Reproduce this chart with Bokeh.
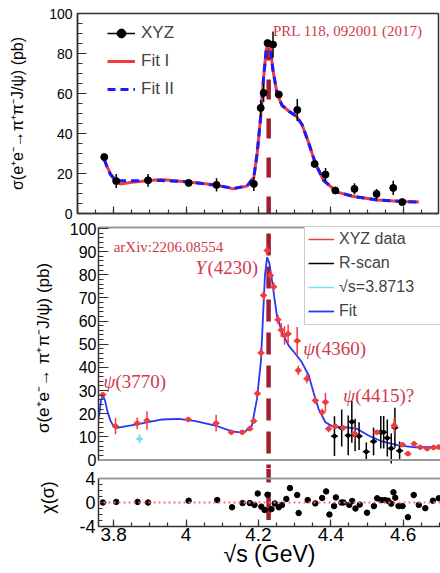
import numpy as np
from bokeh.plotting import figure
from bokeh.models import (Range1d, LinearAxis, Legend, LegendItem, Label, Span,
                          FixedTicker, SingleIntervalTicker, CustomJSTickFormatter)
from bokeh.embed import file_html
from bokeh.resources import INLINE

# ---------------- data ----------------
# top panel (PRL 118, 092001 (2017))
top_E = [3.774, 3.807, 3.895, 4.007, 4.084, 4.187, 4.206, 4.214, 4.225, 4.240,
         4.256, 4.307, 4.355, 4.385, 4.412, 4.465, 4.526, 4.572, 4.597]
top_sig = [28.2, 16.2, 16.6, 15.3, 14.3, 14.8, 52.8, 60.3, 85.2, 84.5,
           59.5, 51.8, 24.8, 19.5, 11.5, 12.3, 9.8, 12.8, 5.7]
top_err = [1.0, 3.5, 3.2, 1.0, 3.3, 3.5, 4.0, 4.5, 1.5, 6.5,
           1.5, 5.5, 1.5, 3.3, 1.2, 2.8, 2.5, 3.6, 1.0]

fit_top_E = [3.774, 3.783, 3.791, 3.805, 3.818, 3.850, 3.930, 4.007, 4.084, 4.131,
             4.168, 4.187, 4.196, 4.205, 4.214, 4.221, 4.226, 4.233, 4.240, 4.251,
             4.265, 4.285, 4.305, 4.320, 4.339, 4.357, 4.380, 4.417, 4.463, 4.528,
             4.597, 4.643]
fit_I = [27.0, 23.0, 19.8, 15.8, 14.8, 15.6, 17.0, 15.8, 14.2, 12.3,
         13.7, 18.2, 29.8, 46.5, 68.0, 81.5, 85.7, 82.3, 71.5, 60.0,
         54.0, 51.0, 48.5, 44.5, 35.0, 25.0, 16.5, 10.7, 8.5, 6.8,
         6.0, 5.7]
fit_II = [27.0, 22.5, 19.5, 17.0, 16.4, 16.4, 16.5, 15.8, 14.0, 12.6,
          13.7, 18.2, 29.8, 46.5, 68.0, 81.5, 85.7, 82.3, 71.5, 60.0,
          54.0, 51.0, 48.5, 44.5, 35.0, 25.0, 16.5, 10.7, 8.5, 6.8,
          6.0, 5.7]

# middle panel (arXiv:2206.08554)
xyz_E = [3.770, 3.805, 3.865, 3.892, 4.006, 4.083, 4.125, 4.155, 4.176, 4.187,
         4.197, 4.207, 4.214, 4.224, 4.233, 4.242, 4.254, 4.263, 4.272, 4.282,
         4.307, 4.310, 4.334, 4.357, 4.376, 4.385, 4.394, 4.412, 4.434, 4.466,
         4.527, 4.575, 4.598, 4.613, 4.630, 4.647, 4.666, 4.684, 4.698]
xyz_sig = [28.2, 14.6, 15.9, 17.1, 17.5, 15.9, 12.0, 12.0, 13.5, 16.8,
           28.7, 46.3, 71.1, 90.5, 79.7, 74.8, 60.6, 56.2, 53.8, 54.5,
           51.5, 38.7, 35.1, 25.7, 20.6, 25.0, 13.5, 14.6, 13.9, 11.3,
           12.0, 14.9, 6.6, 2.7, 7.0, 5.5, 4.9, 5.4, 5.6]
xyz_err = [1.0, 3.5, 2.5, 4.0, 1.0, 3.6, 1.0, 1.0, 1.0, 1.0,
           1.5, 2.0, 2.0, 2.0, 2.0, 2.0, 2.0, 3.0, 4.0, 4.0,
           6.0, 2.0, 2.0, 1.5, 1.5, 4.0, 1.5, 1.0, 1.0, 3.0,
           1.0, 3.5, 1.0, 1.0, 1.0, 1.0, 1.0, 1.0, 1.0]

rscan_E = [4.410, 4.430, 4.448, 4.458, 4.467, 4.478, 4.498, 4.518, 4.538, 4.546,
           4.556, 4.567, 4.577, 4.590]
rscan_sig = [10.3, 13.8, 10.6, 16.5, 10.8, 10.3, 3.6, 8.0, 12.0, 12.0,
             9.5, 5.0, 14.0, 4.0]
rscan_err = [8.6, 8.0, 8.6, 9.0, 7.0, 6.0, 4.0, 6.0, 7.0, 7.0,
             8.0, 6.5, 8.6, 4.0]

cyan_E = [3.8713]
cyan_sig = [9.1]
cyan_err = [2.0]

fit_E = [3.759, 3.765, 3.770, 3.776, 3.782, 3.791, 3.800, 3.809, 3.860, 3.934,
         3.980, 4.026, 4.081, 4.127, 4.159, 4.182, 4.196, 4.207, 4.212, 4.218,
         4.224, 4.230, 4.237, 4.244, 4.251, 4.265, 4.283, 4.302, 4.320, 4.339,
         4.352, 4.366, 4.385, 4.408, 4.440, 4.472, 4.504, 4.541, 4.587, 4.633,
         4.703]
fit_sig = [18.5, 25.7, 27.9, 25.7, 21.4, 17.0, 14.4, 13.9, 15.3, 17.5,
           17.8, 16.8, 14.9, 12.4, 11.7, 14.9, 26.5, 43.0, 60.0, 80.0,
           87.6, 85.0, 78.0, 70.0, 62.4, 55.2, 49.5, 45.9, 42.2, 36.5,
           29.3, 22.1, 16.3, 14.2, 14.2, 13.5, 10.6, 8.0, 6.3, 5.5,
           5.5]

# bottom panel: pulls
res_E = [3.770, 3.807, 3.866, 3.895, 4.007, 4.086, 4.127, 4.156, 4.176, 4.189,
         4.198, 4.208, 4.217, 4.225, 4.236, 4.245, 4.256, 4.265, 4.277, 4.287,
         4.307, 4.311, 4.336, 4.357, 4.376, 4.387, 4.396, 4.409, 4.414, 4.429,
         4.435, 4.451, 4.459, 4.468, 4.480, 4.500, 4.519, 4.528, 4.539, 4.549,
         4.558, 4.567, 4.573, 4.578, 4.587, 4.598, 4.613, 4.629, 4.643, 4.661,
         4.682, 4.698]
res_chi = [0.0, 0.1, 0.1, 0.0, 0.3, 0.4, -0.8, -0.1, -0.1, -0.4,
           1.5, -0.7, -1.25, 1.3, -1.1, -0.15, -0.8, -0.4, 0.6, 2.4,
           1.25, -1.75, 0.4, -0.15, 0.75, 1.85, -2.0, -0.6, 0.85, 0.0,
           0.0, -0.4, 0.25, -1.0, -0.35, -1.7, -0.6, 0.7, 0.4, 0.4,
           0.3, -0.2, 1.7, 0.8, -0.6, -0.6, -2.45, 1.25, -0.4, -0.95,
           0.3, 0.7]

# axis ticks
x_tick_vals = [3.8, 4.0, 4.2, 4.4, 4.6]
x_tick_labels = ["3.8", "4", "4.2", "4.4", "4.6"]
chi_tick_vals = [-4, 0, 4]
chi_tick_labels = ["-4", "0", "4"]

# Y(4230) reference line and its extents per panel
ref_E = 4.228
ref_top_span = [86.5, -5.0]
ref_mid_span = [97.8, -3.67]
ref_bot_spans = [[5.667, 3.33], [1.75, -2.9]]

# ---------------- style ----------------
SANS = "Liberation Sans"
SERIF = "Liberation Serif"
ANN = "#d03a4c"
REFC = "#a01e2d"
DARK = "#333333"
GRAY = "#999999"

def lohi(v, e):
    return [a - b for a, b in zip(v, e)], [a + b for a, b in zip(v, e)]

minor_x = [round(3.7 + 0.05 * i, 3) for i in range(22)]
blank = CustomJSTickFormatter(code="return ''")

def style_axis(ax, font_size, tick_in, minor_in, standoff):
    ax.major_tick_in = tick_in
    ax.major_tick_out = 0
    ax.minor_tick_in = minor_in
    ax.minor_tick_out = 0
    ax.major_label_text_font = SANS
    ax.major_label_text_font_size = font_size
    ax.major_label_text_color = "black"
    ax.major_label_standoff = standoff
    ax.axis_line_color = DARK
    ax.axis_line_width = 1.5
    ax.major_tick_line_color = DARK
    ax.minor_tick_line_color = DARK
    ax.major_tick_line_width = 1.2
    ax.minor_tick_line_width = 1.2
    ax.axis_label_text_font = SANS
    ax.axis_label_text_font_style = "normal"
    ax.axis_label_text_color = "black"

def border_axis():
    return LinearAxis(ticker=FixedTicker(ticks=[]), formatter=blank,
                      major_label_text_font_size="1px",
                      major_tick_in=0, major_tick_out=0, minor_tick_in=0, minor_tick_out=0,
                      major_label_standoff=0, axis_line_color=GRAY, axis_line_width=2)

# ---------------- top panel ----------------
p1 = figure(width=440, height=220, x_range=Range1d(3.70, 4.697), y_range=Range1d(0, 100),
            output_backend="svg", toolbar_location=None,
            min_border_left=77, min_border_right=2, min_border_top=13, min_border_bottom=7)
p1.grid.visible = False
p1.outline_line_color = DARK
p1.outline_line_width = 1.5

p1.xaxis.ticker = FixedTicker(ticks=x_tick_vals, minor_ticks=minor_x)
p1.xaxis.formatter = blank
style_axis(p1.xaxis[0], "1px", 7, 4, 0)
p1.yaxis.ticker = SingleIntervalTicker(interval=20, num_minor_ticks=4)
style_axis(p1.yaxis[0], "14px", 9, 5, 5)
p1.yaxis.axis_label = "σ(e⁺e⁻→π⁺π⁻J/ψ) (pb)"
p1.yaxis.axis_label_text_font_size = "16px"
p1.yaxis.axis_label_standoff = 20

p1.line([ref_E, ref_E], ref_top_span, line_color=REFC, line_width=4.5, line_dash="20 19")
r_f1 = p1.line(fit_top_E, fit_I, line_color="#f23a3a", line_width=3)
r_f2 = p1.line(fit_top_E, fit_II, line_color="#1a1aff", line_width=3, line_dash="8 5")
lo, hi = lohi(top_sig, top_err)
r_te = p1.segment(x0=top_E, y0=lo, x1=top_E, y1=hi, line_color="black", line_width=1.5)
r_tp = p1.scatter(top_E, top_sig, size=7, color="black")
r_tc = p1.scatter([], [], marker="cross", size=8, line_color="black", line_width=1.5)

leg1 = Legend(items=[LegendItem(label="XYZ", renderers=[r_te, r_tc, r_tp]),
                     LegendItem(label="Fit I", renderers=[r_f1]),
                     LegendItem(label="Fit II", renderers=[r_f2])],
              location=(30, 113), padding=0, margin=0, spacing=6,
              glyph_width=28, glyph_height=22, label_standoff=6,
              label_text_font=SANS, label_text_font_size="17px",
              border_line_color=None, background_fill_alpha=0)
p1.add_layout(leg1)

p1.add_layout(Label(x=4.24, y=91.5, text="PRL 118, 092001 (2017)", text_font=SERIF,
                    text_font_size="15px", text_color=ANN, text_baseline="middle"))

# ---------------- middle panel ----------------
p2 = figure(width=440, height=248, x_range=Range1d(3.758, 4.703), y_range=Range1d(-3.67, 100.43),
            output_backend="svg", toolbar_location=None, x_axis_location=None,
            min_border_left=98, min_border_right=0, min_border_top=7, min_border_bottom=0)
p2.grid.visible = False
p2.outline_line_color = None
p2.yaxis.ticker = SingleIntervalTicker(interval=10, num_minor_ticks=5)
p2.yaxis.bounds = (0, 100.43)
style_axis(p2.yaxis[0], "16px", 10, 5, 2)
p2.yaxis.axis_label = "σ(e⁺e⁻→ π⁺π⁻J/ψ) (pb)"
p2.yaxis.axis_label_text_font_size = "17px"
p2.yaxis.axis_label_standoff = 14

p2.add_layout(border_axis(), "above")
p2.add_layout(Span(location=0, dimension="width", line_color=GRAY, line_width=2))

p2.line([ref_E, ref_E], ref_mid_span, line_color=REFC, line_width=4.5, line_dash="22 11")
r_fit = p2.line(fit_E, fit_sig, line_color="#2b35f5", line_width=1.8)

lo, hi = lohi(rscan_sig, rscan_err)
r_be = p2.segment(x0=rscan_E, y0=lo, x1=rscan_E, y1=hi, line_color="black", line_width=1.5)
p2.scatter(rscan_E, rscan_sig, marker="dash", size=7, line_color="black", line_width=1.5)
p2.scatter(rscan_E, rscan_sig, size=4, color="black")

lo, hi = lohi(xyz_sig, xyz_err)
r_re = p2.segment(x0=xyz_E, y0=lo, x1=xyz_E, y1=hi, line_color="#f03c3c", line_width=1.5)
p2.scatter(xyz_E, xyz_sig, marker="dash", size=7, line_color="#f03c3c", line_width=1.5)
p2.scatter(xyz_E, xyz_sig, size=4.5, color="#f03c3c")

lo, hi = lohi(cyan_sig, cyan_err)
r_ce = p2.segment(x0=cyan_E, y0=lo, x1=cyan_E, y1=hi, line_color="#6fe3ee", line_width=1.5)
p2.scatter(cyan_E, cyan_sig, marker="dash", size=7, line_color="#6fe3ee", line_width=1.5)
p2.scatter(cyan_E, cyan_sig, size=4, color="#6fe3ee")

r_rc = p2.scatter([], [], marker="cross", size=8, line_color="#f03c3c", line_width=1.5)
r_bc = p2.scatter([], [], marker="cross", size=8, line_color="black", line_width=1.5)
r_cc = p2.scatter([], [], marker="cross", size=8, line_color="#6fe3ee", line_width=1.5)

leg2 = Legend(items=[LegendItem(label="XYZ data", renderers=[r_re, r_rc]),
                     LegendItem(label="R-scan", renderers=[r_be, r_bc]),
                     LegendItem(label="√s=3.8713", renderers=[r_ce, r_cc]),
                     LegendItem(label="Fit", renderers=[r_fit])],
              location=(206, 143), padding=3, margin=0, spacing=4,
              glyph_width=26, glyph_height=20, label_standoff=5, label_width=112,
              label_text_font=SANS, label_text_font_size="16px",
              border_line_color=GRAY, border_line_width=1.5,
              background_fill_color="white", background_fill_alpha=1)
p2.add_layout(leg2)

p2.add_layout(Label(x=3.80, y=91.8, text="arXiv:2206.08554", text_font=SERIF,
                    text_font_size="15px", text_color=ANN, text_baseline="middle"))
for (ex, ey, sym, rest) in [(4.026, 83.2, "Y", "(4230)"), (3.7715, 33.9, "ψ", "(3770)"),
                            (4.324, 48.2, "ψ", "(4360)"), (4.434, 27.9, "ψ", "(4415)?")]:
    p2.add_layout(Label(x=ex, y=ey, text=sym, text_font=SERIF, text_font_style="italic",
                        text_font_size="19px", text_color=ANN, text_baseline="middle"))
    p2.add_layout(Label(x=ex, y=ey, x_offset=12, text=rest, text_font=SERIF,
                        text_font_size="19px", text_color=ANN, text_baseline="middle"))

# ---------------- bottom panel ----------------
p3 = figure(width=440, height=105, x_range=p2.x_range, y_range=Range1d(-4, 5.667),
            output_backend="svg", toolbar_location=None,
            min_border_left=98, min_border_right=0, min_border_top=0, min_border_bottom=47)
p3.grid.visible = False
p3.outline_line_color = None
p3.xaxis.ticker = FixedTicker(ticks=x_tick_vals, minor_ticks=minor_x)
p3.xaxis.major_label_overrides = dict(zip(x_tick_vals, x_tick_labels))
style_axis(p3.xaxis[0], "19px", 7, 4, 1)
p3.xaxis.axis_label = "√s (GeV)"
p3.xaxis.axis_label_text_font_size = "23px"
p3.xaxis.axis_label_standoff = -3
p3.yaxis.ticker = FixedTicker(ticks=chi_tick_vals, minor_ticks=[-3, -2, -1, 1, 2, 3])
p3.yaxis.major_label_overrides = dict(zip(chi_tick_vals, chi_tick_labels))
p3.yaxis.bounds = (-4, 4)
style_axis(p3.yaxis[0], "18px", 8, 4, 3)
p3.yaxis.axis_label = "χ(σ)"
p3.yaxis.axis_label_text_font_size = "18px"
p3.yaxis.axis_label_standoff = 18

p3.add_layout(Span(location=4, dimension="width", line_color=GRAY, line_width=2))
p3.add_layout(Span(location=0, dimension="width", line_color="#ff6f6f", line_width=2,
                   line_dash="2 3"))
for span in ref_bot_spans:
    p3.line([ref_E, ref_E], span, line_color=REFC, line_width=4.5)
p3.scatter(res_E, res_chi, size=5.5, color="black")

# separate roots so the three frames keep their own left edges
p = [p1, p2, p3]
open("out.html", "w").write(file_html(p, INLINE))
